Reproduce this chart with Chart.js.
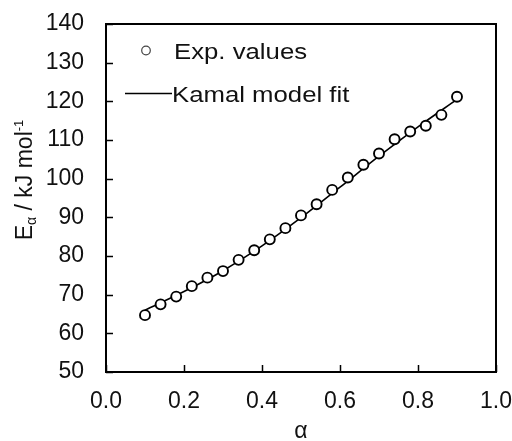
<!DOCTYPE html>
<html>
<head>
<meta charset="utf-8">
<script src="https://cdn.jsdelivr.net/npm/chart.js@4.4.1/dist/chart.umd.min.js"></script>
<style>
  html, body { margin: 0; padding: 0; background: #fff; }
</style>
</head>
<body>
<canvas id="chart" width="512" height="441"></canvas>
<script>
// activation energy vs conversion
const alphaExp = [0.10, 0.14, 0.18, 0.22, 0.26, 0.30, 0.34, 0.38, 0.42, 0.46, 0.50,
                  0.54, 0.58, 0.62, 0.66, 0.70, 0.74, 0.78, 0.82, 0.86, 0.90];
const energyExp = [64.7, 67.5, 69.5, 72.2, 74.4, 76.1, 79.0, 81.5, 84.3, 87.2, 90.5,
                   93.4, 97.1, 100.3, 103.6, 106.5, 110.2, 112.2, 113.7, 116.5, 121.2];

// Kamal model curve
const alphaFit = [0.1, 0.2, 0.3, 0.4, 0.5, 0.6, 0.7, 0.8, 0.9];
const energyFit = [66.0, 70.8, 76.2, 82.6, 89.9, 97.8, 105.8, 113.4, 120.5];

const xTicks = [0.0, 0.2, 0.4, 0.6, 0.8, 1.0];
const yTicks = [50, 60, 70, 80, 90, 100, 110, 120, 130, 140];

const seriesNames = ['Exp. values', 'Kamal model fit'];

const FONT = '"Liberation Sans", Arial, sans-serif';
const INK = '#111';

function toPoints(xs, ys) {
    return xs.map((x, i) => ({ x: x, y: ys[i] }));
}

// box around the plot, inward ticks, y title and the inset legend
const framePlugin = {
    id: 'frame',
    afterDraw(chart) {
        const ctx = chart.ctx;
        const a = chart.chartArea;
        const xs = chart.scales.x;
        const ys = chart.scales.y;

        ctx.save();
        ctx.strokeStyle = '#000';
        ctx.lineWidth = 2;
        ctx.strokeRect(a.left, a.top, a.right - a.left, a.bottom - a.top);

        ctx.lineWidth = 1.5;
        ctx.beginPath();
        xTicks.forEach(v => {
            const px = Math.round(xs.getPixelForValue(v)) + 0.5;
            ctx.moveTo(px, a.bottom);
            ctx.lineTo(px, a.bottom - 7);
        });
        yTicks.forEach(v => {
            const py = Math.round(ys.getPixelForValue(v)) + 0.5;
            ctx.moveTo(a.left, py);
            ctx.lineTo(a.left + 7, py);
        });
        ctx.stroke();

        // y axis title: E with subscript alpha, mol with superscript -1
        const parts = [
            { t: 'E', size: 23, dy: 0 },
            { t: 'α', size: 14, dy: 4 },
            { t: ' / kJ mol', size: 23, dy: 0 },
            { t: '-1', size: 13, dy: -9 }
        ];
        let total = 0;
        parts.forEach(p => {
            ctx.font = p.size + 'px ' + FONT;
            p.w = ctx.measureText(p.t).width;
            total += p.w;
        });
        ctx.translate(32, (a.top + a.bottom) / 2 - 18);
        ctx.rotate(-Math.PI / 2);
        ctx.fillStyle = INK;
        ctx.textBaseline = 'alphabetic';
        ctx.textAlign = 'left';
        let cx = -total / 2;
        parts.forEach(p => {
            ctx.font = p.size + 'px ' + FONT;
            ctx.fillText(p.t, cx, p.dy);
            cx += p.w;
        });
        ctx.restore();

        // legend
        ctx.save();
        ctx.strokeStyle = '#444';
        ctx.lineWidth = 1.2;
        ctx.beginPath();
        ctx.arc(146, 50.5, 4.3, 0, Math.PI * 2);
        ctx.stroke();

        ctx.strokeStyle = '#000';
        ctx.lineWidth = 1.6;
        ctx.beginPath();
        ctx.moveTo(125, 93.5);
        ctx.lineTo(172, 93.5);
        ctx.stroke();

        ctx.fillStyle = INK;
        ctx.font = '22px ' + FONT;
        ctx.textBaseline = 'alphabetic';
        ctx.textAlign = 'left';
        [[174, 58.5], [172, 101.5]].forEach((pos, i) => {
            ctx.save();
            ctx.translate(pos[0], pos[1]);
            ctx.scale(1.17, 1);
            ctx.fillText(seriesNames[i], 0, 0);
            ctx.restore();
        });
        ctx.restore();
    }
};

const config = {
    type: 'scatter',
    data: {
        datasets: [
            {
                label: seriesNames[0],
                data: toPoints(alphaExp, energyExp),
                showLine: false,
                pointStyle: 'circle',
                pointRadius: 5,
                pointBorderWidth: 1.9,
                pointBorderColor: '#000',
                pointBackgroundColor: '#fff',
                order: 1
            },
            {
                label: seriesNames[1],
                data: toPoints(alphaFit, energyFit),
                showLine: true,
                borderColor: '#000',
                borderWidth: 1.6,
                pointRadius: 0,
                cubicInterpolationMode: 'monotone',
                order: 2
            }
        ]
    },
    options: {
        responsive: false,
        animation: false,
        layout: { padding: { top: 24, right: 16, left: 0, bottom: 0 } },
        plugins: {
            legend: { display: false },
            tooltip: { enabled: false }
        },
        scales: {
            x: {
                type: 'linear',
                min: 0,
                max: 1,
                grid: { display: false, drawTicks: false },
                border: { display: false },
                afterBuildTicks: s => { s.ticks = xTicks.map(v => ({ value: v })); },
                afterFit: s => {
                    s.height = 69;
                    s.paddingLeft = 0;
                    s.paddingRight = 0;
                },
                ticks: {
                    color: INK,
                    padding: 16,
                    maxRotation: 0,
                    font: { family: FONT, size: 23 },
                    callback: v => v.toFixed(1)
                },
                title: {
                    display: true,
                    text: 'α',
                    color: INK,
                    font: { family: FONT, size: 23 },
                    padding: { top: 0, bottom: -4 }
                }
            },
            y: {
                type: 'linear',
                min: 50,
                max: 140,
                grid: { display: false, drawTicks: false },
                border: { display: false },
                afterBuildTicks: s => { s.ticks = yTicks.map(v => ({ value: v })); },
                afterFit: s => {
                    s.width = 106;
                    s.paddingTop = 0;
                    s.paddingBottom = 0;
                },
                ticks: {
                    color: INK,
                    padding: 22,
                    font: { family: FONT, size: 23 }
                }
            }
        }
    },
    plugins: [framePlugin]
};

new Chart(document.getElementById('chart'), config);
</script>
</body>
</html>
